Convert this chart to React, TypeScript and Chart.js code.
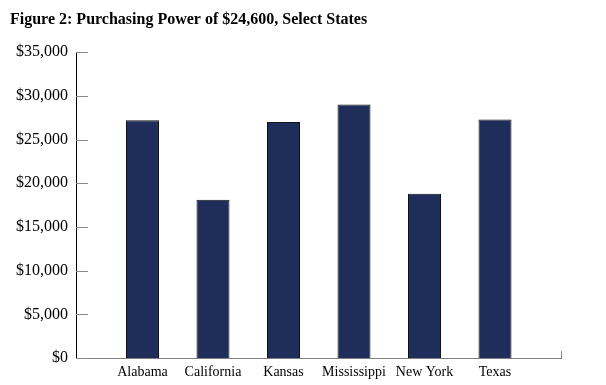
import React, { useEffect, useRef } from "react";
import { Chart, registerables } from "chart.js";

Chart.register(...registerables);

const title = "Figure 2: Purchasing Power of $24,600, Select States";
const categories = ["Alabama", "California", "Kansas", "Mississippi", "New York", "Texas"];
const values = [27200, 18100, 27000, 29000, 18800, 27300];
const yTicks = [0, 5000, 10000, 15000, 20000, 25000, 30000, 35000];

const innerTicks = {
  id: "innerTicks",
  afterDraw(chart: any) {
    const { ctx, chartArea } = chart;
    const y = chart.scales.y;
    ctx.save();
    ctx.lineWidth = 1;
    ctx.strokeStyle = "#8a8a8a";
    y.ticks.forEach((t: any) => {
      const py = Math.round(y.getPixelForValue(t.value)) + 0.5;
      ctx.beginPath();
      ctx.moveTo(chartArea.left, py);
      ctx.lineTo(chartArea.left + 12, py);
      ctx.stroke();
    });
    ctx.beginPath();
    const rx = Math.round(chartArea.right) + 0.5;
    ctx.moveTo(rx, chartArea.bottom);
    ctx.lineTo(rx, chartArea.bottom - 7);
    ctx.stroke();
    ctx.restore();
  },
};

export default function App() {
  const ref = useRef<HTMLCanvasElement>(null);
  useEffect(() => {
    document.body.style.margin = "0";
    const chart = new Chart(ref.current!, {
      type: "bar",
      data: {
        datasets: [
          {
            data: values.map((v, i) => ({ x: i, y: v })),
            backgroundColor: "#1F2D5B",
            borderColor: "#111",
            borderWidth: { top: 1, right: 1, left: 1, bottom: 0 },
            borderSkipped: false,
            barPercentage: 0.468,
            categoryPercentage: 1,
          } as any,
        ],
      },
      options: {
        responsive: false,
        animation: false,
        layout: { padding: { left: 10, right: 45, top: 0, bottom: 0 } },
        plugins: {
          legend: { display: false },
          tooltip: { enabled: false },
          title: {
            display: true,
            text: title,
            align: "start",
            color: "#000",
            font: { family: "'Liberation Serif', serif", size: 16, weight: "bold" },
            padding: { top: 10, bottom: 23 },
          },
        },
        scales: {
          x: {
            type: "linear",
            offset: false,
            min: -0.943,
            max: 5.936,
            grid: { display: false, drawTicks: false, offset: false },
            border: { display: true, color: "#808080", width: 1 },
            afterBuildTicks: (s: any) => {
              s.ticks = categories.map((_, i) => ({ value: i }));
            },
            afterFit: (s: any) => {
              s.height = 27;
            },
            ticks: {
              autoSkip: false,
              maxRotation: 0,
              padding: 6,
              color: "#000",
              font: { family: "'Liberation Serif', serif", size: 14 },
              callback: (v: any) => categories[v] ?? "",
            },
          },
          y: {
            min: 0,
            max: 35000,
            grid: { display: false, drawTicks: false },
            border: { display: true, color: "#000", width: 1 },
            afterBuildTicks: (s: any) => {
              s.ticks = yTicks.map((v) => ({ value: v }));
            },
            afterFit: (s: any) => {
              s.width = 66;
            },
            ticks: {
              padding: 8,
              color: "#000",
              font: { family: "'Liberation Serif', serif", size: 16 },
              callback: (v: any) => "$" + Number(v).toLocaleString("en-US"),
            },
          },
        },
      },
      plugins: [innerTicks],
    });
    return () => chart.destroy();
  }, []);
  return (
    <div style={{ position: "absolute", left: 0, top: 0, width: 606, height: 385, background: "#fff" }}>
      <canvas ref={ref} width={606} height={385} />
    </div>
  );
}
